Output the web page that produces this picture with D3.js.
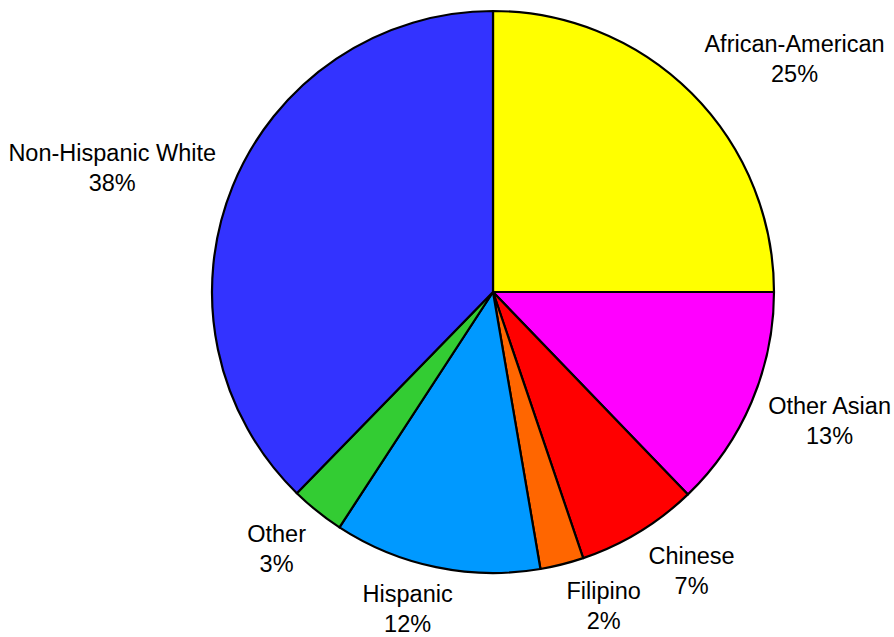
<!DOCTYPE html>
<html>
<head>
<meta charset="utf-8">
<script src="https://cdn.jsdelivr.net/npm/d3@7"></script>
<style>
    body { margin: 0; background: #fff; }
    text { font-family: "Liberation Sans", Arial, sans-serif; fill: #000; }
</style>
</head>
<body>
<script>
//slice data, clockwise from 12 o'clock
var groups = ["African-American", "Other Asian", "Chinese", "Filipino", "Hispanic", "Other", "Non-Hispanic White"];
var shares = [25.0, 12.8, 7.0, 2.5, 11.9, 3.1, 37.7];
var pctLabels = ["25%", "13%", "7%", "2%", "12%", "3%", "38%"];
var colors = ["#ffff00", "#ff00ff", "#ff0000", "#ff6600", "#0099ff", "#33cc33", "#3333ff"];

var width = 894,
    height = 637,
    cx = 493,
    cy = 292,
    radius = 281,
    labelRadius = 299;

var svg = d3.select("body")
    .append("svg")
    .attr("width", width)
    .attr("height", height);

var rows = groups.map(function (g, i) {
    return { name: g, value: shares[i], pct: pctLabels[i], color: colors[i] };
});

var pie = d3.pie()
    .sort(null)
    .value(function (d) { return d.value; });

var arc = d3.arc()
    .innerRadius(0)
    .outerRadius(radius);

var labelArc = d3.arc()
    .innerRadius(labelRadius)
    .outerRadius(labelRadius);

var arcs = pie(rows);

var chart = svg.append("g")
    .attr("transform", "translate(" + cx + "," + cy + ")");

//slices
chart.selectAll(".slice")
    .data(arcs)
    .enter()
    .append("path")
    .attr("class", "slice")
    .attr("d", arc)
    .style("fill", function (d) { return d.data.color; })
    .style("stroke", "#000")
    .style("stroke-width", 2.2)
    .style("stroke-linejoin", "round");

//labels: two centred lines, block pushed away from the pie
var fontSize = 23.5,
    capH = 17,
    lineGap = 30,
    blockH = capH + lineGap;

function clamp(v, lo, hi) { return Math.max(lo, Math.min(hi, v)); }

var labels = chart.selectAll(".label")
    .data(arcs)
    .enter()
    .append("g")
    .attr("class", "label");

labels.append("text")
    .attr("text-anchor", "middle")
    .attr("y", capH)
    .style("font-size", fontSize + "px")
    .text(function (d) { return d.data.name; });

labels.append("text")
    .attr("text-anchor", "middle")
    .attr("y", capH + lineGap)
    .style("font-size", fontSize + "px")
    .text(function (d) { return d.data.pct; });

labels.attr("transform", function (d) {
    var p = labelArc.centroid(d),
        mid = (d.startAngle + d.endAngle) / 2,
        s = Math.sin(mid),
        c = Math.cos(mid),
        w = this.getBBox().width,
        f = clamp(0.5 - (s < 0 ? 1.35 : 2.2) * s, 0, 1),
        g = clamp(0.5 + 0.65 * c, 0, 1),
        x = p[0] - w * f + w / 2,
        y = p[1] - blockH * g;
    return "translate(" + x + "," + y + ")";
});
</script>
</body>
</html>
